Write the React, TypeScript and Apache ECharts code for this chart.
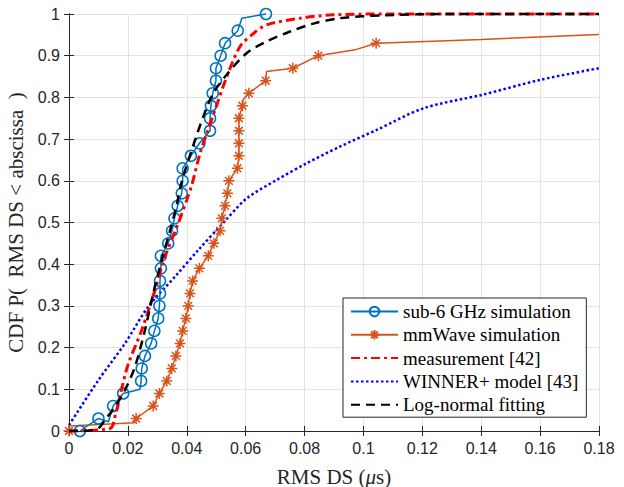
import React, { useEffect, useRef } from "react";
import * as echarts from "echarts";

// x tick labels / y tick labels
const xTicks = [0, 0.02, 0.04, 0.06, 0.08, 0.1, 0.12, 0.14, 0.16, 0.18];
const yTicks = [0, 0.1, 0.2, 0.3, 0.4, 0.5, 0.6, 0.7, 0.8, 0.9, 1];

const seriesNames = [
  "sub-6 GHz simulation",
  "mmWave simulation",
  "measurement [42]",
  "WINNER+ model [43]",
  "Log-normal fitting",
];

// sub-6 GHz simulation (1 = marker shown)
const sub6X = [0.0037, 0.0100, 0.0134, 0.0150, 0.0184, 0.0241, 0.0245, 0.0247, 0.0258, 0.0279, 0.0290, 0.0303, 0.0307, 0.0309, 0.0309, 0.0312, 0.0312, 0.0337, 0.0350, 0.0358, 0.0369, 0.0383, 0.0386, 0.0386, 0.0414, 0.0443, 0.0479, 0.0479, 0.0482, 0.0488, 0.0499, 0.0499, 0.0515, 0.0530, 0.0573, 0.0587, 0.0669];
const sub6Y = [0, 0.03, 0.022, 0.06, 0.09, 0.10, 0.12, 0.15, 0.18, 0.21, 0.24, 0.27, 0.30, 0.33, 0.36, 0.39, 0.42, 0.45, 0.48, 0.51, 0.54, 0.57, 0.60, 0.63, 0.66, 0.69, 0.72, 0.75, 0.78, 0.81, 0.84, 0.87, 0.90, 0.93, 0.96, 0.99, 1.0];
const sub6Mark = [1, 1, 0, 1, 1, 0, 1, 1, 1, 1, 1, 1, 1, 1, 1, 1, 1, 1, 1, 1, 1, 1, 1, 1, 1, 1, 1, 1, 1, 1, 1, 1, 1, 1, 1, 0, 1];

// mmWave simulation
const mmX = [0, 0, 0.0222, 0.0228, 0.0286, 0.0307, 0.0332, 0.0349, 0.0363, 0.0377, 0.0386, 0.0397, 0.0405, 0.0411, 0.0420, 0.0443, 0.0473, 0.0492, 0.0513, 0.0519, 0.0530, 0.0538, 0.0543, 0.0572, 0.0577, 0.0577, 0.0577, 0.0577, 0.0589, 0.0592, 0.0611, 0.0668, 0.0671, 0.0760, 0.0847, 0.0971, 0.1043, 0.1400, 0.1800];
const mmY = [0, 0.012, 0.02, 0.03, 0.06, 0.09, 0.12, 0.15, 0.18, 0.21, 0.24, 0.27, 0.30, 0.33, 0.36, 0.39, 0.42, 0.45, 0.48, 0.51, 0.54, 0.57, 0.60, 0.63, 0.66, 0.69, 0.72, 0.75, 0.78, 0.795, 0.81, 0.84, 0.862, 0.87, 0.90, 0.914, 0.93, 0.939, 0.951];
const mmMark = [1, 0, 0, 1, 1, 1, 1, 1, 1, 1, 1, 1, 1, 1, 1, 1, 1, 1, 1, 1, 1, 1, 1, 1, 1, 1, 1, 1, 1, 0, 1, 1, 0, 1, 1, 0, 1, 0, 0];

// measurement [42]
const measX = [0, 0.0139, 0.0158, 0.0175, 0.0201, 0.0247, 0.0292, 0.0326, 0.0371, 0.0400, 0.0417, 0.0445, 0.0468, 0.0496, 0.0536, 0.0581, 0.0626, 0.0671, 0.0785, 0.0897, 0.1100, 0.1400, 0.1800];
const measY = [0, 0.006, 0.04, 0.09, 0.16, 0.242, 0.338, 0.418, 0.498, 0.554, 0.59, 0.666, 0.714, 0.77, 0.85, 0.922, 0.953, 0.974, 0.99, 0.998, 1, 1, 1];

// WINNER+ model [43]
const winX = [0, 0.0100, 0.0190, 0.0269, 0.0360, 0.0439, 0.0525, 0.0604, 0.0705, 0.0807, 0.0920, 0.1045, 0.1204, 0.1402, 0.1600, 0.1800];
const winY = [0.014, 0.122, 0.21, 0.298, 0.37, 0.434, 0.5, 0.558, 0.602, 0.642, 0.682, 0.722, 0.774, 0.806, 0.842, 0.87];

// Log-normal fitting
const lnX = [0, 0.0083, 0.0100, 0.0122, 0.0156, 0.0190, 0.0224, 0.0258, 0.0286, 0.0315, 0.0343, 0.0365, 0.0383, 0.0417, 0.0456, 0.0490, 0.0536, 0.0603, 0.0671, 0.0751, 0.0830, 0.0920, 0.1067, 0.1300, 0.1800];
const lnY = [0, 0.002, 0.006, 0.026, 0.058, 0.098, 0.154, 0.242, 0.33, 0.41, 0.48, 0.54, 0.598, 0.674, 0.754, 0.81, 0.855, 0.906, 0.934, 0.958, 0.977, 0.99, 0.997, 1, 1];

const pairs = (xs: number[], ys: number[]) => xs.map((x, i) => [x, ys[i]]);
const marked = (xs: number[], ys: number[], m: number[]) =>
  xs.map((x, i) => (m[i] ? [x, ys[i]] : { value: [x, ys[i]], symbol: "none" }));

const STAR = "path://M0,-10L0,10M-10,0L10,0M-7.07,-7.07L7.07,7.07M-7.07,7.07L7.07,-7.07";
const fmt = (v: number) => String(+v.toFixed(2));
const CLEAR = "rgba(0,0,0,0)";

export default function App() {
  const ref = useRef<HTMLDivElement>(null);
  useEffect(() => {
    const chart = echarts.init(ref.current!, null, { renderer: "svg" });
    const axisCol = "#262626";
    const tickFont = { fontFamily: "Liberation Sans", fontSize: 16, color: "#262626" };
    chart.setOption({
      animation: false,
      backgroundColor: "#ffffff",
      grid: { left: 69, top: 14, width: 530, height: 417, containLabel: false, outerBoundsMode: "none" },
      legend: {
        orient: "vertical",
        left: 343,
        top: 298,
        backgroundColor: "#ffffff",
        borderColor: "#262626",
        borderWidth: 1,
        borderRadius: 0,
        padding: [4, 8, 3, 7],
        itemWidth: 47,
        itemHeight: 12,
        itemGap: 4.3,
        data: seriesNames,
        textStyle: { fontFamily: "Liberation Serif", fontSize: 19, color: "#000", lineHeight: 19 },
      },
      xAxis: [
        {
          type: "value",
          min: 0,
          max: 0.18,
          interval: 0.02,
          name: "RMS DS ({i|μ}s)",
          nameLocation: "middle",
          nameGap: 35,
          nameTextStyle: {
            fontFamily: "Liberation Serif",
            fontSize: 21,
            color: "#262626",
            rich: { i: { fontFamily: "Liberation Serif", fontSize: 21, fontStyle: "italic", color: "#262626" } },
          },
          axisLine: { show: true, lineStyle: { color: axisCol, width: 1 } },
          axisTick: { show: true, inside: true, length: 5, lineStyle: { color: axisCol } },
          axisLabel: { ...tickFont, margin: 9, formatter: fmt },
          splitLine: { show: true, lineStyle: { color: "#e3e3e3", width: 1 } },
        },
        {
          type: "value",
          position: "top",
          min: 0,
          max: 0.18,
          interval: 0.02,
          axisLine: { show: true, lineStyle: { color: axisCol, width: 1 } },
          axisTick: { show: true, inside: true, length: 5, lineStyle: { color: axisCol } },
          axisLabel: { show: false },
          splitLine: { show: false },
        },
      ],
      yAxis: [
        {
          type: "value",
          min: 0,
          max: 1,
          interval: 0.1,
          name: "CDF P(  RMS DS < abscissa  )",
          nameLocation: "middle",
          nameGap: 36,
          nameTextStyle: { fontFamily: "Liberation Serif", fontSize: 21, color: "#262626" },
          axisLine: { show: true, lineStyle: { color: axisCol, width: 1 } },
          axisTick: { show: true, inside: true, length: 5, lineStyle: { color: axisCol } },
          axisLabel: { ...tickFont, margin: 9, formatter: fmt },
          splitLine: { show: true, lineStyle: { color: "#e3e3e3", width: 1 } },
        },
        {
          type: "value",
          position: "right",
          min: 0,
          max: 1,
          interval: 0.1,
          axisLine: { show: true, lineStyle: { color: axisCol, width: 1 } },
          axisTick: { show: true, inside: true, length: 5, lineStyle: { color: axisCol } },
          axisLabel: { show: false },
          splitLine: { show: false },
        },
      ],
      series: [
        {
          name: seriesNames[0],
          type: "line",
          clip: false,
          z: 5,
          data: marked(sub6X, sub6Y, sub6Mark),
          symbol: "circle",
          symbolSize: 11,
          itemStyle: { color: "rgba(255,255,255,0)", borderColor: "#0072BD", borderWidth: 1.5 },
          lineStyle: { color: "#0072BD", width: 1.5 },
        },
        {
          name: seriesNames[1],
          type: "line",
          clip: false,
          z: 4,
          data: marked(mmX, mmY, mmMark),
          symbol: STAR,
          symbolSize: 11,
          itemStyle: { color: "#D95319", borderColor: "#D95319", borderWidth: 1.5 },
          lineStyle: { color: "#D95319", width: 1.5 },
        },
        {
          name: seriesNames[2],
          type: "line",
          clip: false,
          z: 6,
          data: pairs(measX, measY),
          symbol: "none",
          smooth: 0.3,
          itemStyle: { color: CLEAR, borderColor: CLEAR },
          lineStyle: { color: "#FF0000", width: 3, type: [9, 4, 3, 4] },
        },
        {
          name: seriesNames[3],
          type: "line",
          clip: false,
          z: 3,
          data: pairs(winX, winY),
          symbol: "none",
          smooth: 0.3,
          itemStyle: { color: CLEAR, borderColor: CLEAR },
          lineStyle: { color: "#0000FF", width: 2.5, type: [2.5, 2.5] },
        },
        {
          name: seriesNames[4],
          type: "line",
          clip: false,
          z: 7,
          data: pairs(lnX, lnY),
          symbol: "none",
          smooth: 0.3,
          itemStyle: { color: CLEAR, borderColor: CLEAR },
          lineStyle: { color: "#000000", width: 2.5, type: [9, 6] },
        },
      ],
    });
    return () => chart.dispose();
  }, []);
  return <div ref={ref} style={{ width: 624, height: 487, position: "absolute", left: 0, top: 0 }} />;
}
